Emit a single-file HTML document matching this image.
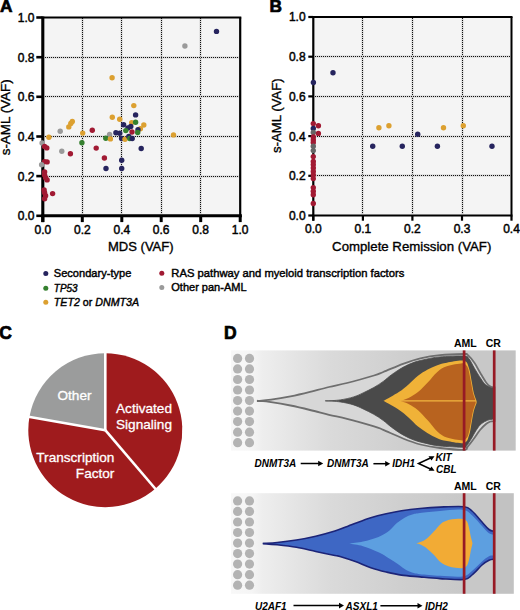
<!DOCTYPE html>
<html><head><meta charset="utf-8"><style>
html,body{margin:0;padding:0;background:#fff;width:520px;height:610px;overflow:hidden}
svg text{font-family:"Liberation Sans", sans-serif;fill:#000}
.th{stroke:#000;stroke-width:0.35px}
.th2{stroke:#000;stroke-width:0.42px}
.th3{stroke:#000;stroke-width:0.45px}
.th4{stroke:#000;stroke-width:0.7px}
</style></head><body>
<svg width="520" height="610" viewBox="0 0 520 610" style="position:absolute;left:0;top:0">
<rect x="42.8" y="17.5" width="197.4" height="198.3" fill="#f4f4f4"/>
<line x1="82.5" y1="18" x2="82.5" y2="214" stroke="#d2d2d2" stroke-width="2"/>
<line x1="82.5" y1="18" x2="82.5" y2="214" stroke="#111" stroke-width="1" stroke-dasharray="1 1"/>
<line x1="121.5" y1="18" x2="121.5" y2="214" stroke="#d2d2d2" stroke-width="2"/>
<line x1="121.5" y1="18" x2="121.5" y2="214" stroke="#111" stroke-width="1" stroke-dasharray="1 1"/>
<line x1="161.5" y1="18" x2="161.5" y2="214" stroke="#d2d2d2" stroke-width="2"/>
<line x1="161.5" y1="18" x2="161.5" y2="214" stroke="#111" stroke-width="1" stroke-dasharray="1 1"/>
<line x1="200.5" y1="18" x2="200.5" y2="214" stroke="#d2d2d2" stroke-width="2"/>
<line x1="200.5" y1="18" x2="200.5" y2="214" stroke="#111" stroke-width="1" stroke-dasharray="1 1"/>
<line x1="45" y1="57.5" x2="239" y2="57.5" stroke="#d2d2d2" stroke-width="2"/>
<line x1="45" y1="57.5" x2="239" y2="57.5" stroke="#111" stroke-width="1" stroke-dasharray="1 1"/>
<line x1="45" y1="96.5" x2="239" y2="96.5" stroke="#d2d2d2" stroke-width="2"/>
<line x1="45" y1="96.5" x2="239" y2="96.5" stroke="#111" stroke-width="1" stroke-dasharray="1 1"/>
<line x1="45" y1="136.5" x2="239" y2="136.5" stroke="#d2d2d2" stroke-width="2"/>
<line x1="45" y1="136.5" x2="239" y2="136.5" stroke="#111" stroke-width="1" stroke-dasharray="1 1"/>
<line x1="45" y1="176.5" x2="239" y2="176.5" stroke="#d2d2d2" stroke-width="2"/>
<line x1="45" y1="176.5" x2="239" y2="176.5" stroke="#111" stroke-width="1" stroke-dasharray="1 1"/>
<line x1="42.8" y1="17.5" x2="241.29999999999998" y2="17.5" stroke="#000" stroke-width="2.2"/>
<line x1="240.2" y1="17.5" x2="240.2" y2="215.8" stroke="#000" stroke-width="2.2"/>
<line x1="42.8" y1="16.5" x2="42.8" y2="222.10000000000002" stroke="#000" stroke-width="3.1"/>
<line x1="41.3" y1="215.8" x2="241.89999999999998" y2="215.8" stroke="#000" stroke-width="3.1"/>
<line x1="42.8" y1="215.8" x2="42.8" y2="222.10000000000002" stroke="#000" stroke-width="3"/>
<line x1="36.3" y1="215.8" x2="42.8" y2="215.8" stroke="#000" stroke-width="2.6"/>
<text x="42.8" y="233.5" font-size="12" class="th3" text-anchor="middle">0.0</text>
<text x="34.5" y="220.4" font-size="12" class="th3" text-anchor="end">0.0</text>
<line x1="82.3" y1="215.8" x2="82.3" y2="222.10000000000002" stroke="#000" stroke-width="3"/>
<line x1="36.3" y1="176.1" x2="42.8" y2="176.1" stroke="#000" stroke-width="2.6"/>
<text x="82.3" y="233.5" font-size="12" class="th3" text-anchor="middle">0.2</text>
<text x="34.5" y="180.7" font-size="12" class="th3" text-anchor="end">0.2</text>
<line x1="121.8" y1="215.8" x2="121.8" y2="222.10000000000002" stroke="#000" stroke-width="3"/>
<line x1="36.3" y1="136.5" x2="42.8" y2="136.5" stroke="#000" stroke-width="2.6"/>
<text x="121.8" y="233.5" font-size="12" class="th3" text-anchor="middle">0.4</text>
<text x="34.5" y="141.1" font-size="12" class="th3" text-anchor="end">0.4</text>
<line x1="161.2" y1="215.8" x2="161.2" y2="222.10000000000002" stroke="#000" stroke-width="3"/>
<line x1="36.3" y1="96.8" x2="42.8" y2="96.8" stroke="#000" stroke-width="2.6"/>
<text x="161.2" y="233.5" font-size="12" class="th3" text-anchor="middle">0.6</text>
<text x="34.5" y="101.4" font-size="12" class="th3" text-anchor="end">0.6</text>
<line x1="200.7" y1="215.8" x2="200.7" y2="222.10000000000002" stroke="#000" stroke-width="3"/>
<line x1="36.3" y1="57.2" x2="42.8" y2="57.2" stroke="#000" stroke-width="2.6"/>
<text x="200.7" y="233.5" font-size="12" class="th3" text-anchor="middle">0.8</text>
<text x="34.5" y="61.8" font-size="12" class="th3" text-anchor="end">0.8</text>
<line x1="240.2" y1="215.8" x2="240.2" y2="222.10000000000002" stroke="#000" stroke-width="3"/>
<line x1="36.3" y1="17.5" x2="42.8" y2="17.5" stroke="#000" stroke-width="2.6"/>
<text x="240.2" y="233.5" font-size="12" class="th3" text-anchor="middle">1.0</text>
<text x="34.5" y="22.1" font-size="12" class="th3" text-anchor="end">1.0</text>
<circle cx="216.5" cy="31.4" r="2.7" fill="#26245e"/>
<circle cx="184.9" cy="46" r="2.7" fill="#9a9a9a"/>
<circle cx="112.1" cy="77.7" r="2.7" fill="#dca030"/>
<circle cx="133.8" cy="105.6" r="2.7" fill="#dca030"/>
<circle cx="135.6" cy="114.9" r="2.7" fill="#26245e"/>
<circle cx="112.3" cy="117.3" r="2.7" fill="#dca030"/>
<circle cx="119.7" cy="119.2" r="2.7" fill="#dca030"/>
<circle cx="143.8" cy="125.0" r="2.7" fill="#dca030"/>
<circle cx="131.7" cy="122.6" r="2.7" fill="#dca030"/>
<circle cx="135.6" cy="122.3" r="2.7" fill="#35802f"/>
<circle cx="123.6" cy="124.8" r="2.7" fill="#26245e"/>
<circle cx="130.8" cy="126.4" r="2.7" fill="#26245e"/>
<circle cx="127.9" cy="127.9" r="2.7" fill="#26245e"/>
<circle cx="140.4" cy="128.7" r="2.7" fill="#dca030"/>
<circle cx="138.0" cy="129.8" r="2.7" fill="#26245e"/>
<circle cx="125.8" cy="130.6" r="2.7" fill="#35802f"/>
<circle cx="132.0" cy="132.0" r="2.7" fill="#a11a33"/>
<circle cx="137.7" cy="132.5" r="2.7" fill="#35802f"/>
<circle cx="115.9" cy="132.7" r="2.7" fill="#26245e"/>
<circle cx="119.7" cy="133.2" r="2.7" fill="#26245e"/>
<circle cx="109.6" cy="134.4" r="2.7" fill="#9a9a9a"/>
<circle cx="105.8" cy="138.3" r="2.7" fill="#35802f"/>
<circle cx="110.4" cy="138.9" r="2.7" fill="#dca030"/>
<circle cx="121.6" cy="138.5" r="2.7" fill="#26245e"/>
<circle cx="125.0" cy="139.2" r="2.7" fill="#dca030"/>
<circle cx="128.8" cy="136.5" r="2.7" fill="#26245e"/>
<circle cx="129.8" cy="138.5" r="2.7" fill="#35802f"/>
<circle cx="132.2" cy="138.5" r="2.7" fill="#26245e"/>
<circle cx="173.5" cy="134.9" r="2.7" fill="#dca030"/>
<circle cx="141.2" cy="148.5" r="2.7" fill="#26245e"/>
<circle cx="104.4" cy="158.0" r="2.7" fill="#a11a33"/>
<circle cx="121.7" cy="160.2" r="2.7" fill="#26245e"/>
<circle cx="121.7" cy="168.5" r="2.7" fill="#26245e"/>
<circle cx="106.0" cy="168.5" r="2.7" fill="#26245e"/>
<circle cx="72.3" cy="121.5" r="2.7" fill="#dca030"/>
<circle cx="70.8" cy="123.5" r="2.7" fill="#dca030"/>
<circle cx="68.8" cy="126.9" r="2.7" fill="#dca030"/>
<circle cx="60.2" cy="131.2" r="2.7" fill="#9a9a9a"/>
<circle cx="92.3" cy="130.2" r="2.7" fill="#a11a33"/>
<circle cx="82.7" cy="133.1" r="2.7" fill="#dca030"/>
<circle cx="48.9" cy="137.2" r="2.7" fill="#dca030"/>
<circle cx="81.9" cy="142.7" r="2.7" fill="#35802f"/>
<circle cx="61.8" cy="151.2" r="2.7" fill="#9a9a9a"/>
<circle cx="70.4" cy="153.8" r="2.7" fill="#a11a33"/>
<circle cx="96.2" cy="148.1" r="2.7" fill="#a11a33"/>
<circle cx="42.1" cy="143.0" r="2.7" fill="#9a9a9a"/>
<circle cx="44.6" cy="146.4" r="2.7" fill="#a11a33"/>
<circle cx="46.8" cy="147.9" r="2.7" fill="#a11a33"/>
<circle cx="44.6" cy="161.6" r="2.7" fill="#a11a33"/>
<circle cx="47.1" cy="161.9" r="2.7" fill="#a11a33"/>
<circle cx="41.6" cy="164.8" r="2.7" fill="#9a9a9a"/>
<circle cx="44.6" cy="171.9" r="2.7" fill="#a11a33"/>
<circle cx="44.6" cy="175.1" r="2.7" fill="#a11a33"/>
<circle cx="45.6" cy="177.8" r="2.7" fill="#a11a33"/>
<circle cx="47.1" cy="179.9" r="2.7" fill="#a11a33"/>
<circle cx="44.1" cy="189.9" r="2.7" fill="#a11a33"/>
<circle cx="44.6" cy="192.8" r="2.7" fill="#a11a33"/>
<circle cx="45.6" cy="195.8" r="2.7" fill="#a11a33"/>
<circle cx="44.6" cy="198.7" r="2.7" fill="#a11a33"/>
<circle cx="52.6" cy="193.6" r="2.7" fill="#a11a33"/>
<text x="140.8" y="250.5" font-size="13" class="th" text-anchor="middle" textLength="65.6" lengthAdjust="spacingAndGlyphs">MDS (VAF)</text>
<text transform="translate(10.3,117.3) rotate(-90)" x="0" y="0" font-size="13" class="th" text-anchor="middle" textLength="76" lengthAdjust="spacingAndGlyphs">s-AML (VAF)</text>
<text x="0" y="12.4" font-size="17.3" font-weight="bold" class="th4">A</text>
<rect x="313.3" y="17.0" width="198.2" height="198.5" fill="#f4f4f4"/>
<line x1="362.5" y1="18" x2="362.5" y2="214" stroke="#d2d2d2" stroke-width="2"/>
<line x1="362.5" y1="18" x2="362.5" y2="214" stroke="#111" stroke-width="1" stroke-dasharray="1 1"/>
<line x1="412.5" y1="18" x2="412.5" y2="214" stroke="#d2d2d2" stroke-width="2"/>
<line x1="412.5" y1="18" x2="412.5" y2="214" stroke="#111" stroke-width="1" stroke-dasharray="1 1"/>
<line x1="462.5" y1="18" x2="462.5" y2="214" stroke="#d2d2d2" stroke-width="2"/>
<line x1="462.5" y1="18" x2="462.5" y2="214" stroke="#111" stroke-width="1" stroke-dasharray="1 1"/>
<line x1="315" y1="56.5" x2="510" y2="56.5" stroke="#d2d2d2" stroke-width="2"/>
<line x1="315" y1="56.5" x2="510" y2="56.5" stroke="#111" stroke-width="1" stroke-dasharray="1 1"/>
<line x1="315" y1="96.5" x2="510" y2="96.5" stroke="#d2d2d2" stroke-width="2"/>
<line x1="315" y1="96.5" x2="510" y2="96.5" stroke="#111" stroke-width="1" stroke-dasharray="1 1"/>
<line x1="315" y1="136.5" x2="510" y2="136.5" stroke="#d2d2d2" stroke-width="2"/>
<line x1="315" y1="136.5" x2="510" y2="136.5" stroke="#111" stroke-width="1" stroke-dasharray="1 1"/>
<line x1="315" y1="175.5" x2="510" y2="175.5" stroke="#d2d2d2" stroke-width="2"/>
<line x1="315" y1="175.5" x2="510" y2="175.5" stroke="#111" stroke-width="1" stroke-dasharray="1 1"/>
<line x1="313.3" y1="17.0" x2="512.5" y2="17.0" stroke="#000" stroke-width="2"/>
<line x1="511.5" y1="17.0" x2="511.5" y2="215.5" stroke="#000" stroke-width="2"/>
<line x1="313.3" y1="16.0" x2="313.3" y2="220.7" stroke="#000" stroke-width="2.2"/>
<line x1="312.3" y1="215.5" x2="512.5" y2="215.5" stroke="#000" stroke-width="2.2"/>
<line x1="313.3" y1="215.5" x2="313.3" y2="220.7" stroke="#000" stroke-width="2.2"/>
<text x="313.3" y="232.6" font-size="12" class="th3" text-anchor="middle">0.0</text>
<line x1="362.9" y1="215.5" x2="362.9" y2="220.7" stroke="#000" stroke-width="2.2"/>
<text x="362.9" y="232.6" font-size="12" class="th3" text-anchor="middle">0.1</text>
<line x1="412.4" y1="215.5" x2="412.4" y2="220.7" stroke="#000" stroke-width="2.2"/>
<text x="412.4" y="232.6" font-size="12" class="th3" text-anchor="middle">0.2</text>
<line x1="462.0" y1="215.5" x2="462.0" y2="220.7" stroke="#000" stroke-width="2.2"/>
<text x="462.0" y="232.6" font-size="12" class="th3" text-anchor="middle">0.3</text>
<line x1="511.5" y1="215.5" x2="511.5" y2="220.7" stroke="#000" stroke-width="2.2"/>
<text x="511.5" y="232.6" font-size="12" class="th3" text-anchor="middle">0.4</text>
<line x1="308.3" y1="215.5" x2="313.3" y2="215.5" stroke="#000" stroke-width="2.2"/>
<text x="305.6" y="219.9" font-size="12" class="th3" text-anchor="end">0.0</text>
<line x1="308.3" y1="175.8" x2="313.3" y2="175.8" stroke="#000" stroke-width="2.2"/>
<text x="305.6" y="180.2" font-size="12" class="th3" text-anchor="end">0.2</text>
<line x1="308.3" y1="136.1" x2="313.3" y2="136.1" stroke="#000" stroke-width="2.2"/>
<text x="305.6" y="140.5" font-size="12" class="th3" text-anchor="end">0.4</text>
<line x1="308.3" y1="96.4" x2="313.3" y2="96.4" stroke="#000" stroke-width="2.2"/>
<text x="305.6" y="100.8" font-size="12" class="th3" text-anchor="end">0.6</text>
<line x1="308.3" y1="56.7" x2="313.3" y2="56.7" stroke="#000" stroke-width="2.2"/>
<text x="305.6" y="61.1" font-size="12" class="th3" text-anchor="end">0.8</text>
<line x1="308.3" y1="17.0" x2="313.3" y2="17.0" stroke="#000" stroke-width="2.2"/>
<text x="305.6" y="21.4" font-size="12" class="th3" text-anchor="end">1.0</text>
<circle cx="333.0" cy="72.7" r="2.7" fill="#26245e"/>
<circle cx="313.4" cy="82.5" r="2.7" fill="#26245e"/>
<circle cx="313.3" cy="123.6" r="2.7" fill="#a11a33"/>
<circle cx="318.4" cy="125.8" r="2.7" fill="#a11a33"/>
<circle cx="313.3" cy="128.5" r="2.7" fill="#26245e"/>
<circle cx="313.3" cy="132.5" r="2.7" fill="#666666"/>
<circle cx="318.4" cy="133.4" r="2.7" fill="#a11a33"/>
<circle cx="313.3" cy="136.9" r="2.7" fill="#a11a33"/>
<circle cx="313.3" cy="140.0" r="2.7" fill="#a11a33"/>
<circle cx="313.3" cy="142.6" r="2.7" fill="#a11a33"/>
<circle cx="313.3" cy="146.3" r="2.7" fill="#666666"/>
<circle cx="313.3" cy="150.6" r="2.7" fill="#666666"/>
<circle cx="313.3" cy="156.6" r="2.7" fill="#a11a33"/>
<circle cx="313.3" cy="161.4" r="2.7" fill="#a11a33"/>
<circle cx="313.3" cy="164.6" r="2.7" fill="#a11a33"/>
<circle cx="313.3" cy="168.0" r="2.7" fill="#a11a33"/>
<circle cx="313.3" cy="171.4" r="2.7" fill="#a11a33"/>
<circle cx="313.3" cy="175.0" r="2.7" fill="#a11a33"/>
<circle cx="313.3" cy="178.6" r="2.7" fill="#a11a33"/>
<circle cx="313.3" cy="187.6" r="2.7" fill="#a11a33"/>
<circle cx="313.3" cy="191.2" r="2.7" fill="#a11a33"/>
<circle cx="313.3" cy="194.8" r="2.7" fill="#a11a33"/>
<circle cx="313.3" cy="203.5" r="2.7" fill="#a11a33"/>
<circle cx="378.9" cy="127.8" r="2.7" fill="#dca030"/>
<circle cx="388.9" cy="125.7" r="2.7" fill="#dca030"/>
<circle cx="443.5" cy="127.7" r="2.7" fill="#dca030"/>
<circle cx="463.3" cy="125.8" r="2.7" fill="#dca030"/>
<circle cx="417.7" cy="134.2" r="2.7" fill="#26245e"/>
<circle cx="372.7" cy="146.3" r="2.7" fill="#26245e"/>
<circle cx="402.3" cy="146.3" r="2.7" fill="#26245e"/>
<circle cx="437.4" cy="146.3" r="2.7" fill="#26245e"/>
<circle cx="492.0" cy="146.2" r="2.7" fill="#26245e"/>
<text x="411.7" y="251.3" font-size="13" class="th" text-anchor="middle" textLength="159.2" lengthAdjust="spacingAndGlyphs">Complete Remission (VAF)</text>
<text transform="translate(281.2,115.7) rotate(-90)" x="0" y="0" font-size="13" class="th" text-anchor="middle" textLength="74.5" lengthAdjust="spacingAndGlyphs">s-AML (VAF)</text>
<text x="269.5" y="12.3" font-size="17.3" font-weight="bold" class="th4">B</text>
<circle cx="45.8" cy="273.5" r="2.5" fill="#26245e"/>
<text x="53.8" y="277.4" font-size="11" class="th2" textLength="77.5" lengthAdjust="spacingAndGlyphs">Secondary-type</text>
<circle cx="45.8" cy="288.3" r="2.5" fill="#35802f"/>
<text x="53.8" y="291.6" font-size="11" class="th2" font-style="italic" textLength="23.8" lengthAdjust="spacingAndGlyphs">TP53</text>
<circle cx="45.8" cy="302.3" r="2.5" fill="#dca030"/>
<text x="53.8" y="305.7" font-size="11" class="th2" textLength="85.3" lengthAdjust="spacingAndGlyphs"><tspan font-style="italic">TET2</tspan> or <tspan font-style="italic">DNMT3A</tspan></text>
<circle cx="161.8" cy="273.3" r="2.5" fill="#a11a33"/>
<text x="171.3" y="277.2" font-size="11" class="th2" textLength="233" lengthAdjust="spacingAndGlyphs">RAS pathway and myeloid transcription factors</text>
<circle cx="161.8" cy="287.5" r="2.5" fill="#9a9a9a"/>
<text x="171.3" y="291.4" font-size="11" class="th2">Other pan-AML</text>
<path d="M105.3,430.2 L105.30,353.20 A77.0,77.0 0 0 1 155.31,488.75 Z" fill="#9f1b1d"/>
<path d="M105.3,430.2 L155.31,488.75 A77.0,77.0 0 0 1 29.47,416.83 Z" fill="#9f1b1d"/>
<path d="M105.3,430.2 L29.47,416.83 A77.0,77.0 0 0 1 105.30,353.20 Z" fill="#9b9c9c"/>
<line x1="105.3" y1="430.2" x2="105.30" y2="352.20" stroke="#fff" stroke-width="2.6"/>
<line x1="105.3" y1="430.2" x2="155.96" y2="489.51" stroke="#fff" stroke-width="2.6"/>
<line x1="105.3" y1="430.2" x2="28.48" y2="416.66" stroke="#fff" stroke-width="2.6"/>
<g style="fill:#fff" font-size="13.6">
<text x="74.5" y="400" text-anchor="middle" style="fill:#fff;stroke:#fff;stroke-width:0.3px">Other</text>
<text x="144" y="413" text-anchor="middle" style="fill:#fff;stroke:#fff;stroke-width:0.3px">Activated</text>
<text x="144" y="429" text-anchor="middle" style="fill:#fff;stroke:#fff;stroke-width:0.3px">Signaling</text>
<text x="114.4" y="461.7" text-anchor="end" style="fill:#fff;stroke:#fff;stroke-width:0.3px">Transcription</text>
<text x="114.4" y="477.7" text-anchor="end" style="fill:#fff;stroke:#fff;stroke-width:0.3px">Factor</text>
</g>
<text x="-0.8" y="339.2" font-size="17.5" font-weight="bold" class="th4">C</text>
<defs><linearGradient id="bgg" x1="231" y1="0" x2="516" y2="0" gradientUnits="userSpaceOnUse"><stop offset="0.0000" stop-color="#f8f8f8"/><stop offset="0.0737" stop-color="#f5f5f5"/><stop offset="0.1088" stop-color="#eeeeee"/><stop offset="0.3474" stop-color="#dadada"/><stop offset="0.5930" stop-color="#cfcfcf"/><stop offset="0.8140" stop-color="#c8c8c8"/><stop offset="0.9193" stop-color="#c8c8c8"/><stop offset="0.9263" stop-color="#c2c2c2"/><stop offset="1.0000" stop-color="#c2c2c2"/></linearGradient></defs>
<rect x="231" y="350.4" width="284.7" height="100.2" fill="url(#bgg)"/>
<rect x="231" y="493.2" width="282.8" height="100.6" fill="url(#bgg)"/>
<circle cx="237.6" cy="358.4" r="4.6" fill="#b3b3b3"/>
<circle cx="249.5" cy="358.4" r="4.6" fill="#b3b3b3"/>
<circle cx="237.6" cy="368.9" r="4.6" fill="#b3b3b3"/>
<circle cx="249.5" cy="368.9" r="4.6" fill="#b3b3b3"/>
<circle cx="237.6" cy="379.5" r="4.6" fill="#b3b3b3"/>
<circle cx="249.5" cy="379.5" r="4.6" fill="#b3b3b3"/>
<circle cx="237.6" cy="390.0" r="4.6" fill="#b3b3b3"/>
<circle cx="249.5" cy="390.0" r="4.6" fill="#b3b3b3"/>
<circle cx="237.6" cy="400.6" r="4.6" fill="#b3b3b3"/>
<circle cx="249.5" cy="400.6" r="4.6" fill="#b3b3b3"/>
<circle cx="237.6" cy="411.1" r="4.6" fill="#b3b3b3"/>
<circle cx="249.5" cy="411.1" r="4.6" fill="#b3b3b3"/>
<circle cx="237.6" cy="421.6" r="4.6" fill="#b3b3b3"/>
<circle cx="249.5" cy="421.6" r="4.6" fill="#b3b3b3"/>
<circle cx="237.6" cy="432.2" r="4.6" fill="#b3b3b3"/>
<circle cx="249.5" cy="432.2" r="4.6" fill="#b3b3b3"/>
<circle cx="237.6" cy="442.7" r="4.6" fill="#b3b3b3"/>
<circle cx="249.5" cy="442.7" r="4.6" fill="#b3b3b3"/>
<circle cx="237.6" cy="500.9" r="4.6" fill="#b3b3b3"/>
<circle cx="249.5" cy="500.9" r="4.6" fill="#b3b3b3"/>
<circle cx="237.6" cy="511.4" r="4.6" fill="#b3b3b3"/>
<circle cx="249.5" cy="511.4" r="4.6" fill="#b3b3b3"/>
<circle cx="237.6" cy="522.0" r="4.6" fill="#b3b3b3"/>
<circle cx="249.5" cy="522.0" r="4.6" fill="#b3b3b3"/>
<circle cx="237.6" cy="532.5" r="4.6" fill="#b3b3b3"/>
<circle cx="249.5" cy="532.5" r="4.6" fill="#b3b3b3"/>
<circle cx="237.6" cy="543.1" r="4.6" fill="#b3b3b3"/>
<circle cx="249.5" cy="543.1" r="4.6" fill="#b3b3b3"/>
<circle cx="237.6" cy="553.6" r="4.6" fill="#b3b3b3"/>
<circle cx="249.5" cy="553.6" r="4.6" fill="#b3b3b3"/>
<circle cx="237.6" cy="564.1" r="4.6" fill="#b3b3b3"/>
<circle cx="249.5" cy="564.1" r="4.6" fill="#b3b3b3"/>
<circle cx="237.6" cy="574.7" r="4.6" fill="#b3b3b3"/>
<circle cx="249.5" cy="574.7" r="4.6" fill="#b3b3b3"/>
<circle cx="237.6" cy="585.2" r="4.6" fill="#b3b3b3"/>
<circle cx="249.5" cy="585.2" r="4.6" fill="#b3b3b3"/>
<path d="M257.8,401.0 C260.0,400.8 265.6,400.5 271.0,399.7 C276.4,398.9 284.0,397.6 290.5,396.3 C297.0,395.0 303.6,393.4 310.0,391.8 C316.4,390.2 322.8,388.5 329.0,387.0 C335.2,385.5 339.5,384.9 347.0,383.0 C354.5,381.1 367.9,377.3 374.0,375.5 C380.1,373.7 378.5,373.9 383.3,372.0 C388.1,370.1 396.8,366.1 403.0,363.8 C409.2,361.5 414.2,359.7 420.4,358.3 C426.6,356.9 432.7,355.9 440.0,355.2 C447.3,354.5 459.4,354.1 464.0,354.0 C468.6,353.9 466.0,353.4 467.7,354.9 C469.4,356.4 472.3,359.8 474.4,362.8 C476.5,365.8 478.3,369.6 480.3,373.0 C482.3,376.4 484.8,380.8 486.5,383.0 C488.2,385.2 489.2,385.8 490.5,386.5 C491.8,387.2 493.8,387.2 494.5,387.3 L494.5,421.0 C493.8,421.1 491.9,421.0 490.5,421.5 C489.1,422.0 488.1,422.4 486.3,423.8 C484.6,425.2 482.1,427.5 480.0,430.0 C477.9,432.5 475.9,436.0 473.8,438.8 C471.7,441.6 469.1,445.1 467.5,446.9 C465.9,448.7 468.6,449.6 464.0,449.8 C459.4,450.0 447.3,448.9 440.0,448.0 C432.7,447.1 426.6,446.0 420.4,444.5 C414.2,442.9 409.2,441.0 403.0,438.5 C396.8,436.1 388.1,431.9 383.3,429.9 C378.5,427.8 380.1,428.1 374.0,426.3 C367.9,424.5 354.5,420.7 347.0,418.8 C339.5,416.9 335.2,416.3 329.0,414.8 C322.8,413.3 316.4,411.5 310.0,410.0 C303.6,408.4 297.0,406.8 290.5,405.5 C284.0,404.2 276.4,402.9 271.0,402.1 C265.6,401.3 260.0,401.0 257.8,400.8 Z" fill="#d7d7d7" stroke="#6e6e6e" stroke-width="1.8"/>
<path d="M325.4,401.0 C327.9,400.8 335.5,400.6 340.2,399.9 C344.9,399.2 349.8,398.1 353.6,396.9 C357.4,395.7 359.7,394.5 363.1,392.9 C366.5,391.3 370.4,389.4 373.8,387.5 C377.2,385.6 380.4,383.5 383.3,381.4 C386.2,379.3 388.2,377.1 391.5,374.8 C394.8,372.5 399.1,369.4 403.0,367.3 C406.9,365.2 410.8,363.5 414.6,362.1 C418.5,360.8 421.9,360.1 426.1,359.2 C430.3,358.3 433.7,357.4 440.0,356.9 C446.3,356.4 459.2,355.7 464.0,356.0 C468.8,356.3 467.3,356.8 469.0,358.8 C470.7,360.8 472.4,364.8 474.4,368.2 C476.4,371.6 479.3,376.3 481.1,379.0 C482.9,381.7 483.7,383.0 485.4,384.5 C487.1,386.0 490.0,387.2 491.5,387.8 C493.0,388.4 494.0,388.1 494.5,388.2 L494.5,419.0 C494.2,419.0 493.7,419.0 492.5,419.2 C491.3,419.4 489.4,419.5 487.5,420.3 C485.6,421.1 483.2,422.2 481.3,423.8 C479.4,425.4 478.0,427.5 476.3,430.0 C474.6,432.5 473.0,436.1 471.3,438.8 C469.6,441.5 467.5,444.8 466.3,446.2 C465.1,447.6 468.4,447.3 464.0,447.3 C459.6,447.3 446.3,446.6 440.0,446.0 C433.7,445.3 430.3,444.4 426.1,443.4 C421.9,442.5 418.5,441.7 414.6,440.3 C410.8,438.9 406.9,437.1 403.0,434.9 C399.1,432.7 394.8,429.6 391.5,427.2 C388.2,424.8 386.2,422.6 383.3,420.5 C380.4,418.3 377.2,416.2 373.8,414.3 C370.4,412.4 366.5,410.5 363.1,408.9 C359.7,407.3 357.4,406.1 353.6,404.9 C349.8,403.7 344.9,402.6 340.2,401.9 C335.5,401.2 327.9,401.0 325.4,400.8 Z" fill="#4a4a4a" stroke="#4a4a4a" stroke-width="0.8"/>
<path d="M383.5,401.0 C386.1,399.5 394.6,394.9 398.8,392.1 C403.0,389.3 405.3,387.1 408.5,384.4 C411.7,381.7 414.8,378.3 418.0,375.8 C421.2,373.3 424.5,371.4 427.7,369.6 C430.9,367.8 434.1,366.4 437.3,365.2 C440.5,364.0 442.4,363.4 446.9,362.7 C451.3,362.0 460.3,359.9 464.0,360.8 C467.7,361.7 467.7,364.7 469.0,368.2 C470.3,371.7 470.9,377.6 471.7,381.6 C472.5,385.6 472.9,389.2 473.7,392.4 C474.5,395.6 476.1,399.5 476.6,400.9 L476.6,402.9 C476.1,404.3 474.5,408.2 473.7,411.4 C472.9,414.6 472.5,418.2 471.7,422.2 C470.9,426.2 470.3,432.1 469.0,435.6 C467.7,439.1 467.7,442.1 464.0,443.0 C460.3,443.9 451.3,441.9 446.9,441.1 C442.4,440.3 440.5,439.5 437.3,438.2 C434.1,436.8 430.9,435.2 427.7,433.2 C424.5,431.3 421.2,429.1 418.0,426.5 C414.8,423.8 411.7,420.2 408.5,417.4 C405.3,414.6 403.0,412.5 398.8,409.7 C394.6,406.9 386.1,402.3 383.5,400.8 Z" fill="#f0b238"/>
<path d="M399.6,401.0 C401.1,400.5 405.4,399.4 408.5,397.9 C411.6,396.4 414.8,394.7 418.0,392.1 C421.2,389.5 424.5,385.9 427.7,382.5 C430.9,379.1 434.1,374.6 437.3,371.9 C440.5,369.2 442.7,367.6 446.9,366.2 C451.1,364.8 459.2,363.6 462.3,363.3 C465.4,363.0 464.5,363.6 465.5,364.5 C466.5,365.4 467.4,366.1 468.3,369.0 C469.2,371.9 470.1,377.7 470.9,381.6 C471.7,385.5 472.1,389.2 472.9,392.4 C473.7,395.6 475.2,399.5 475.7,400.9 L475.7,402.9 C475.2,404.3 473.7,408.2 472.9,411.4 C472.1,414.6 471.7,418.3 470.9,422.2 C470.1,426.1 469.2,431.9 468.3,434.8 C467.4,437.6 466.5,438.3 465.5,439.3 C464.5,440.2 465.4,440.8 462.3,440.5 C459.2,440.2 451.1,439.1 446.9,437.6 C442.7,436.1 440.5,434.3 437.3,431.5 C434.1,428.6 430.9,423.9 427.7,420.3 C424.5,416.8 421.2,412.9 418.0,410.2 C414.8,407.4 411.6,405.5 408.5,403.9 C405.4,402.3 401.1,401.3 399.6,400.8 Z" fill="#b8631f"/>
<line x1="399.6" y1="400.9" x2="476" y2="400.9" stroke="#f2b640" stroke-width="1.2"/>
<path d="M262.8,543.5 C265.2,543.3 271.6,543.1 277.2,542.5 C282.8,541.9 290.1,541.0 296.5,540.0 C302.9,539.0 309.3,537.7 315.7,536.2 C322.1,534.7 329.4,532.7 334.9,531.0 C340.3,529.3 345.0,527.3 348.4,526.0 C351.8,524.7 351.7,524.7 355.4,523.3 C359.1,521.9 365.7,519.3 370.8,517.7 C375.9,516.1 381.1,514.9 386.2,513.8 C391.3,512.6 395.9,511.7 401.5,510.8 C407.1,509.9 413.6,509.1 420.0,508.5 C426.4,507.9 432.7,507.4 440.0,507.1 C447.3,506.8 458.7,506.1 464.0,506.7 C469.3,507.3 469.0,508.4 472.0,511.0 C475.0,513.5 479.2,518.9 482.0,522.0 C484.8,525.1 486.9,527.9 489.0,529.5 C491.1,531.1 493.6,531.2 494.5,531.5 L494.5,559.2 C493.6,559.4 491.1,559.3 489.0,560.3 C486.9,561.3 484.8,562.5 482.0,565.0 C479.2,567.5 475.0,572.6 472.0,575.0 C469.0,577.4 469.3,578.9 464.0,579.5 C458.7,580.1 447.3,579.0 440.0,578.6 C432.7,578.2 426.4,577.5 420.0,576.9 C413.6,576.3 407.1,575.9 401.5,575.1 C395.9,574.3 391.3,573.2 386.2,572.0 C381.1,570.8 375.9,569.5 370.8,567.7 C365.7,566.0 360.5,563.4 355.4,561.5 C350.3,559.6 343.4,557.4 340.0,556.4 C336.6,555.4 338.9,556.3 334.9,555.5 C330.8,554.7 322.1,552.9 315.7,551.5 C309.3,550.1 302.9,548.4 296.5,547.3 C290.1,546.2 282.8,545.4 277.2,544.8 C271.6,544.2 265.2,543.7 262.8,543.5 Z" fill="#3e67c4"/>
<path d="M349.2,543.6 C351.5,543.2 358.1,542.6 363.0,541.5 C367.9,540.4 374.1,538.7 378.5,536.9 C382.9,535.1 386.1,533.1 389.2,530.8 C392.3,528.5 394.3,525.3 396.9,523.1 C399.5,520.9 402.0,519.1 404.6,517.7 C407.2,516.3 409.7,515.4 412.3,514.6 C414.9,513.8 415.4,513.7 420.0,513.1 C424.6,512.5 432.9,511.6 440.0,511.0 C447.1,510.4 457.2,509.1 462.5,509.8 C467.8,510.5 468.8,512.5 472.0,515.2 C475.2,517.9 479.2,523.0 482.0,526.0 C484.8,529.0 486.9,531.8 489.0,533.3 C491.1,534.8 493.6,534.7 494.5,535.0 L494.5,555.5 C493.6,555.6 491.1,555.2 489.0,556.2 C486.9,557.2 484.8,559.0 482.0,561.5 C479.2,564.0 475.2,568.5 472.0,571.0 C468.8,573.5 467.8,575.7 462.5,576.5 C457.2,577.3 447.1,576.2 440.0,575.8 C432.9,575.4 424.4,574.7 420.0,574.2 C415.6,573.8 416.1,573.8 413.8,573.1 C411.5,572.4 408.8,571.4 406.2,570.0 C403.6,568.6 401.3,566.5 398.5,564.6 C395.7,562.7 392.5,560.5 389.2,558.5 C385.9,556.5 382.9,554.3 378.5,552.3 C374.1,550.2 367.9,547.7 363.0,546.2 C358.1,544.8 351.5,544.0 349.2,543.6 Z" fill="#5d9fe0"/>
<path d="M416.5,543.2 C417.2,543.0 419.3,542.5 421.0,541.8 C422.7,541.1 424.5,540.5 426.6,538.8 C428.7,537.1 431.4,534.1 433.8,531.6 C436.2,529.1 438.6,525.6 441.0,523.7 C443.4,521.8 445.9,520.9 448.3,520.1 C450.7,519.3 453.1,519.1 455.5,518.9 C457.9,518.7 460.8,518.5 462.7,518.9 C464.6,519.3 465.9,519.9 467.0,521.5 C468.1,523.1 468.6,526.4 469.2,528.8 C469.8,531.2 470.1,533.6 470.6,536.0 C471.2,538.4 472.2,542.0 472.5,543.2 L472.5,543.2 C472.2,544.6 471.2,549.2 470.6,551.8 C470.1,554.4 469.8,556.7 469.2,559.0 C468.6,561.3 468.1,564.0 467.0,565.5 C465.9,567.0 464.6,567.6 462.7,568.0 C460.8,568.4 457.9,568.0 455.5,567.7 C453.1,567.4 450.7,567.1 448.3,566.2 C445.9,565.4 443.4,564.5 441.0,562.6 C438.6,560.7 436.2,557.1 433.8,554.7 C431.4,552.3 428.7,549.9 426.6,548.2 C424.5,546.6 422.7,545.6 421.0,544.8 C419.3,544.0 417.2,543.5 416.5,543.2 Z" fill="#f2ab35"/>
<path d="M262.8,543.5 C265.2,543.3 271.6,543.1 277.2,542.5 C282.8,541.9 290.1,541.0 296.5,540.0 C302.9,539.0 309.3,537.7 315.7,536.2 C322.1,534.7 329.4,532.7 334.9,531.0 C340.3,529.3 345.0,527.3 348.4,526.0 C351.8,524.7 351.7,524.7 355.4,523.3 C359.1,521.9 365.7,519.3 370.8,517.7 C375.9,516.1 381.1,514.9 386.2,513.8 C391.3,512.6 395.9,511.7 401.5,510.8 C407.1,509.9 413.6,509.1 420.0,508.5 C426.4,507.9 432.7,507.4 440.0,507.1 C447.3,506.8 458.7,506.1 464.0,506.7 C469.3,507.3 469.0,508.4 472.0,511.0 C475.0,513.5 479.2,518.9 482.0,522.0 C484.8,525.1 486.9,527.9 489.0,529.5 C491.1,531.1 493.6,531.2 494.5,531.5" fill="none" stroke="#1c2478" stroke-width="1.6"/>
<path d="M262.8,543.5 C265.2,543.7 271.6,544.2 277.2,544.8 C282.8,545.4 290.1,546.2 296.5,547.3 C302.9,548.4 309.3,550.1 315.7,551.5 C322.1,552.9 330.8,554.7 334.9,555.5 C338.9,556.3 336.6,555.4 340.0,556.4 C343.4,557.4 350.3,559.6 355.4,561.5 C360.5,563.4 365.7,566.0 370.8,567.7 C375.9,569.5 381.1,570.8 386.2,572.0 C391.3,573.2 395.9,574.3 401.5,575.1 C407.1,575.9 413.6,576.3 420.0,576.9 C426.4,577.5 432.7,578.2 440.0,578.6 C447.3,579.0 458.7,580.1 464.0,579.5 C469.3,578.9 469.0,577.4 472.0,575.0 C475.0,572.6 479.2,567.5 482.0,565.0 C484.8,562.5 486.9,561.3 489.0,560.3 C491.1,559.3 493.6,559.4 494.5,559.2" fill="none" stroke="#1c2478" stroke-width="1.6"/>
<line x1="464.1" y1="350.4" x2="464.1" y2="450.6" stroke="#971a25" stroke-width="2.7"/>
<line x1="494.2" y1="350.4" x2="494.2" y2="450.6" stroke="#971a25" stroke-width="2.7"/>
<line x1="464.1" y1="493.2" x2="464.1" y2="593.8" stroke="#971a25" stroke-width="2.7"/>
<line x1="494.2" y1="493.2" x2="494.2" y2="593.8" stroke="#971a25" stroke-width="2.7"/>
<text x="465.3" y="346.5" font-size="10.5" font-weight="bold" text-anchor="middle">AML</text>
<text x="493.3" y="346.5" font-size="10.5" font-weight="bold" text-anchor="middle">CR</text>
<text x="465.3" y="489.8" font-size="10.5" font-weight="bold" text-anchor="middle">AML</text>
<text x="493.3" y="489.8" font-size="10.5" font-weight="bold" text-anchor="middle">CR</text>
<text x="224" y="338.8" font-size="17.5" font-weight="bold" class="th4">D</text>
<g font-size="10" font-weight="bold" font-style="italic">
<text x="254.5" y="467.3">DNMT3A</text>
<line x1="300.7" y1="463.5" x2="319.2" y2="463.5" stroke="#000" stroke-width="1.5"/><path d="M323.2,463.5 L318.2,460.7 L318.2,466.3 Z" fill="#000"/>
<text x="327" y="467.3">DNMT3A</text>
<line x1="373.4" y1="463.7" x2="386.2" y2="463.7" stroke="#000" stroke-width="1.5"/><path d="M390.2,463.7 L385.2,460.9 L385.2,466.5 Z" fill="#000"/>
<text x="392.2" y="467.3">IDH1</text>
<text x="435.6" y="460.6">KIT</text>
<text x="436" y="472.6">CBL</text>
<text x="255" y="609.6">U2AF1</text>
<line x1="293.5" y1="605.6" x2="340" y2="605.6" stroke="#000" stroke-width="1.5"/><path d="M344,605.6 L339,602.8000000000001 L339,608.4 Z" fill="#000"/>
<text x="345.6" y="609.6">ASXL1</text>
<line x1="380.4" y1="605.8" x2="418.5" y2="605.8" stroke="#000" stroke-width="1.5"/><path d="M422.5,605.8 L417.5,603.0 L417.5,608.5999999999999 Z" fill="#000"/>
<text x="425" y="609.6">IDH2</text>
</g>
<path d="M431,457.8 L418.5,463.5 L431,469.3" fill="none" stroke="#000" stroke-width="1.5"/>
<path d="M434.5,456.2 L428.5,456.3 L431.5,460.4 Z" fill="#000"/><path d="M434.5,470.8 L428.5,470.7 L431.5,466.6 Z" fill="#000"/>
</svg>
</body></html>
